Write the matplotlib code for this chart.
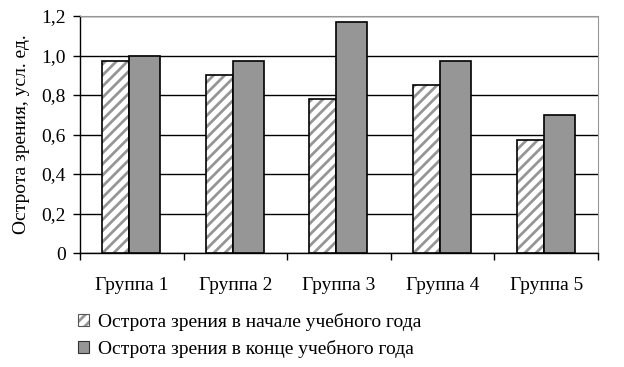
import matplotlib
matplotlib.use("Agg")
import numpy as np
from matplotlib import pyplot as plt
from matplotlib.patches import Patch

groups = ["Группа 1", "Группа 2", "Группа 3", "Группа 4", "Группа 5"]
start_year = [0.97, 0.90, 0.78, 0.85, 0.57]
end_year = [1.00, 0.97, 1.17, 0.97, 0.70]
yticks = [0, 0.2, 0.4, 0.6, 0.8, 1.0, 1.2]
ytick_labels = ["0", "0,2", "0,4", "0,6", "0,8", "1,0", "1,2"]

label_start = "Острота зрения в начале учебного года"
label_end = "Острота зрения в конце учебного года"

plt.rcParams["font.family"] = ["Liberation Serif", "DejaVu Serif"]
plt.rcParams["font.size"] = 14
plt.rcParams["hatch.linewidth"] = 2.0

grey = "#969696"

fig = plt.figure(figsize=(6.24, 3.67), dpi=100)
ax = fig.add_axes([80 / 624, 1 - 253 / 367, 518 / 624, 237 / 367])

x = np.arange(len(groups))

# hatched bars: grey stripes, black outline drawn on top
ax.bar(x - 0.285, start_year, width=0.26, align="edge", color="white",
       edgecolor=grey, hatch="///", linewidth=0, zorder=3)
ax.bar(x - 0.285, start_year, width=0.26, align="edge", fill=False,
       edgecolor="black", linewidth=1.2, zorder=4)
ax.bar(x - 0.025, end_year, width=0.30, align="edge", color=grey,
       edgecolor="black", linewidth=1.2, zorder=4)

ax.set_xlim(-0.5, len(groups) - 0.5)
ax.set_ylim(0, 1.2)
ax.set_yticks(yticks)
ax.set_yticklabels(ytick_labels)
ax.yaxis.grid(True, color="black", linewidth=1)
ax.set_axisbelow(True)

ax.set_xticks(x)
ax.set_xticklabels(groups)
ax.tick_params(axis="x", length=0, pad=17)
ax.set_xticks(np.arange(len(groups) + 1) - 0.5, minor=True)
ax.tick_params(axis="x", which="minor", length=5, width=1, direction="out")
ax.tick_params(axis="y", length=5, width=1, direction="out", pad=5)

ax.spines["top"].set_color(grey)
ax.spines["right"].set_color(grey)
ax.spines["left"].set_linewidth(1)
ax.spines["bottom"].set_linewidth(1)

ax.set_ylabel("Острота зрения, усл. ед.", labelpad=8)

hatch_patch = Patch(facecolor="white", edgecolor=grey, hatch="///", linewidth=0)
outline = Patch(fill=False, edgecolor="#555555", linewidth=0.8)
handles = [
    (hatch_patch, outline),
    Patch(facecolor=grey, edgecolor="#333333", linewidth=0.8),
]
fig.legend(handles, [label_start, label_end], loc="upper left",
           bbox_to_anchor=(70 / 624, 1 - 305 / 367), frameon=False,
           handlelength=0.6, handleheight=0.6, handletextpad=0.45,
           labelspacing=0.45, borderaxespad=0)

fig.savefig("out.png", dpi=100)
